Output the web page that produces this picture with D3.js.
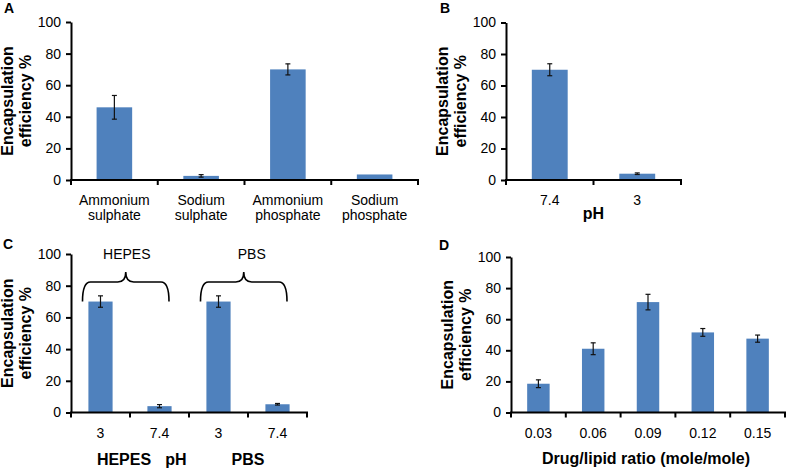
<!DOCTYPE html>
<html>
<head>
<meta charset="utf-8">
<script src="https://cdn.jsdelivr.net/npm/d3@7"></script>
<style>
  body { margin: 0; background: #fff; }
  svg { display: block; font-family: "Liberation Sans", Arial, sans-serif; }
</style>
</head>
<body>
<div id="chart"></div>
<script>
// ---- data ----
const yTicks = [0, 20, 40, 60, 80, 100];

const catsA = ["Ammonium sulphate", "Sodium sulphate", "Ammonium phosphate", "Sodium phosphate"];
const valsA = [46, 2.6, 70, 3.5];
const errsA = [7.5, 0.8, 3.5, 0];

const catsB = ["7.4", "3"];
const valsB = [70, 4];
const errsB = [3.8, 0.5];

const catsC = ["HEPES 3", "HEPES 7.4", "PBS 3", "PBS 7.4"];
const ticksC = ["3", "7.4", "3", "7.4"];
const valsC = [70, 4, 70, 5.2];
const errsC = [3.6, 1, 3.6, 0.5];
const buffersC = ["HEPES", "PBS"];

const catsD = ["0.03", "0.06", "0.09", "0.12", "0.15"];
const valsD = [18.5, 41, 71, 51.5, 47.5];
const errsD = [2.5, 3.8, 5, 2.5, 2.3];

const barColor = "#4f81bd";
const font = "\"Liberation Sans\", Arial, sans-serif";

const svg = d3.select("#chart").append("svg")
  .attr("width", 787)
  .attr("height", 469);

svg.append("rect").attr("width", 787).attr("height", 469).attr("fill", "#fff");

// ---------- one bar panel ----------
function drawPanel(p) {
  const data = p.cats.map((c, i) => ({ cat: c, value: p.vals[i], err: p.errs[i] }));

  const x = d3.scaleBand()
    .domain(p.cats)
    .range([p.left, p.right])
    .paddingInner(0.59)
    .paddingOuter(0.295);

  const y = d3.scaleLinear()
    .domain([0, 100])
    .range([p.bottom, p.top]);

  const g = svg.append("g");

  // bars
  g.selectAll("rect.bar")
    .data(data)
    .enter()
    .append("rect")
    .attr("class", "bar")
    .attr("x", d => x(d.cat))
    .attr("y", d => y(d.value))
    .attr("width", x.bandwidth())
    .attr("height", d => y(0) - y(d.value))
    .attr("fill", barColor);

  // error bars
  const eb = g.selectAll("g.err")
    .data(data.filter(d => d.err > 0))
    .enter()
    .append("g")
    .attr("stroke", "#111")
    .attr("stroke-width", 1.2);
  eb.append("line")
    .attr("x1", d => x(d.cat) + x.bandwidth() / 2)
    .attr("x2", d => x(d.cat) + x.bandwidth() / 2)
    .attr("y1", d => y(d.value + d.err))
    .attr("y2", d => y(d.value - d.err));
  [1, -1].forEach(s => {
    eb.append("line")
      .attr("x1", d => x(d.cat) + x.bandwidth() / 2 - 2.5)
      .attr("x2", d => x(d.cat) + x.bandwidth() / 2 + 2.5)
      .attr("y1", d => y(d.value + s * d.err))
      .attr("y2", d => y(d.value + s * d.err));
  });

  // y axis
  const yAxis = g.append("g")
    .attr("transform", `translate(${p.left},0)`)
    .call(d3.axisLeft(y).tickValues(yTicks).tickSize(5).tickPadding(5).tickSizeOuter(0));
  yAxis.select(".domain").attr("stroke", "#000").attr("stroke-width", 2);
  yAxis.selectAll(".tick line").attr("stroke", "#000").attr("stroke-width", 2);
  yAxis.selectAll(".tick text")
    .attr("fill", "#000")
    .style("font-family", font)
    .style("font-size", "14px");

  // x axis line with ticks at category boundaries
  const xg = g.append("g");
  xg.append("line")
    .attr("x1", p.left - 1).attr("x2", p.right + 1)
    .attr("y1", y(0)).attr("y2", y(0))
    .attr("stroke", "#000").attr("stroke-width", 2);
  const bounds = p.cats.map(c => x(c) - x.step() * x.paddingInner() / 2);
  bounds.push(p.right);
  xg.selectAll("line.bt")
    .data(bounds)
    .enter()
    .append("line")
    .attr("x1", d => d).attr("x2", d => d)
    .attr("y1", y(0)).attr("y2", y(0) + 5)
    .attr("stroke", "#000").attr("stroke-width", 2);

  // x tick labels (may wrap into two lines)
  const labels = p.tickLabels || p.cats;
  labels.forEach((lab, i) => {
    const cx = x(p.cats[i]) + x.bandwidth() / 2;
    const lines = p.wrap ? lab.split(" ") : [lab];
    const t = g.append("text")
      .attr("x", cx)
      .attr("y", y(0) + 25)
      .attr("text-anchor", "middle")
      .attr("fill", "#000")
      .style("font-size", "14px");
    lines.forEach((ln, j) => {
      t.append("tspan").attr("x", cx).attr("dy", j === 0 ? 0 : 15).text(ln);
    });
  });

  // y axis title
  const cy = (p.top + p.bottom) / 2;
  [["Encapsulation", -58], ["efficiency %", -40.5]].forEach(([txt, dx]) => {
    g.append("text")
      .attr("transform", `translate(${p.left + dx},${cy}) rotate(-90)`)
      .attr("text-anchor", "middle")
      .attr("fill", "#000")
      .style("font-size", "16px")
      .style("font-weight", "bold")
      .text(txt);
  });

  // panel letter
  g.append("text")
    .attr("x", p.letterX)
    .attr("y", p.letterY)
    .attr("fill", "#000")
    .style("font-size", "14px")
    .style("font-weight", "bold")
    .text(p.letter);

  return { x, y, g };
}

// ---------- panels ----------
drawPanel({ cats: catsA, vals: valsA, errs: errsA, wrap: true,
  left: 71, right: 418, top: 22, bottom: 180, letter: "A", letterX: 4, letterY: 13 });

const pb = drawPanel({ cats: catsB, vals: valsB, errs: errsB,
  left: 506, right: 681, top: 22.5, bottom: 180, letter: "B", letterX: 440, letterY: 13 });
pb.g.append("text")
  .attr("x", (506 + 681) / 2).attr("y", 180 + 39)
  .attr("text-anchor", "middle")
  .style("font-size", "16px").style("font-weight", "bold")
  .text("pH");

const pc = drawPanel({ cats: catsC, vals: valsC, errs: errsC, tickLabels: ticksC,
  left: 71, right: 307, top: 254, bottom: 412.5, letter: "C", letterX: 3, letterY: 248.5 });

// braces over each buffer group
buffersC.forEach((buf, i) => {
  const c1 = catsC[i * 2], c2 = catsC[i * 2 + 1];
  const xl = pc.x(c1) + pc.x.bandwidth() / 2 - 18;
  const xr = pc.x(c2) + pc.x.bandwidth() / 2 + 9.5;
  const xm = (xl + xr) / 2;
  const yb = 301.5, yh = 282, yt = 272, r = 8;
  const path = d3.path();
  path.moveTo(xl, yb);
  path.quadraticCurveTo(xl, yh, xl + r, yh);
  path.lineTo(xm - r, yh);
  path.quadraticCurveTo(xm, yh, xm, yt);
  path.quadraticCurveTo(xm, yh, xm + r, yh);
  path.lineTo(xr - r, yh);
  path.quadraticCurveTo(xr, yh, xr, yb);
  pc.g.append("path")
    .attr("d", path.toString())
    .attr("fill", "none")
    .attr("stroke", "#000")
    .attr("stroke-width", 1.6);
  pc.g.append("text")
    .attr("x", xm + (i === 0 ? 1 : 8))
    .attr("y", 258.5)
    .attr("text-anchor", "middle")
    .attr("fill", "#000")
    .style("font-size", "14px")
    .text(buf);
});

// bottom labels of panel C
[["HEPES", 124], ["pH", 176], ["PBS", 248]].forEach(([txt, tx]) => {
  pc.g.append("text")
    .attr("x", tx).attr("y", 465)
    .attr("text-anchor", "middle")
    .style("font-size", "16px").style("font-weight", "bold")
    .text(txt);
});

const pd = drawPanel({ cats: catsD, vals: valsD, errs: errsD,
  left: 511, right: 785, top: 257, bottom: 412.5, letter: "D", letterX: 439, letterY: 249.5 });
pd.g.append("text")
  .attr("x", 646).attr("y", 464)
  .attr("text-anchor", "middle")
  .style("font-size", "16px").style("font-weight", "bold")
  .text("Drug/lipid ratio (mole/mole)");
</script>
</body>
</html>
